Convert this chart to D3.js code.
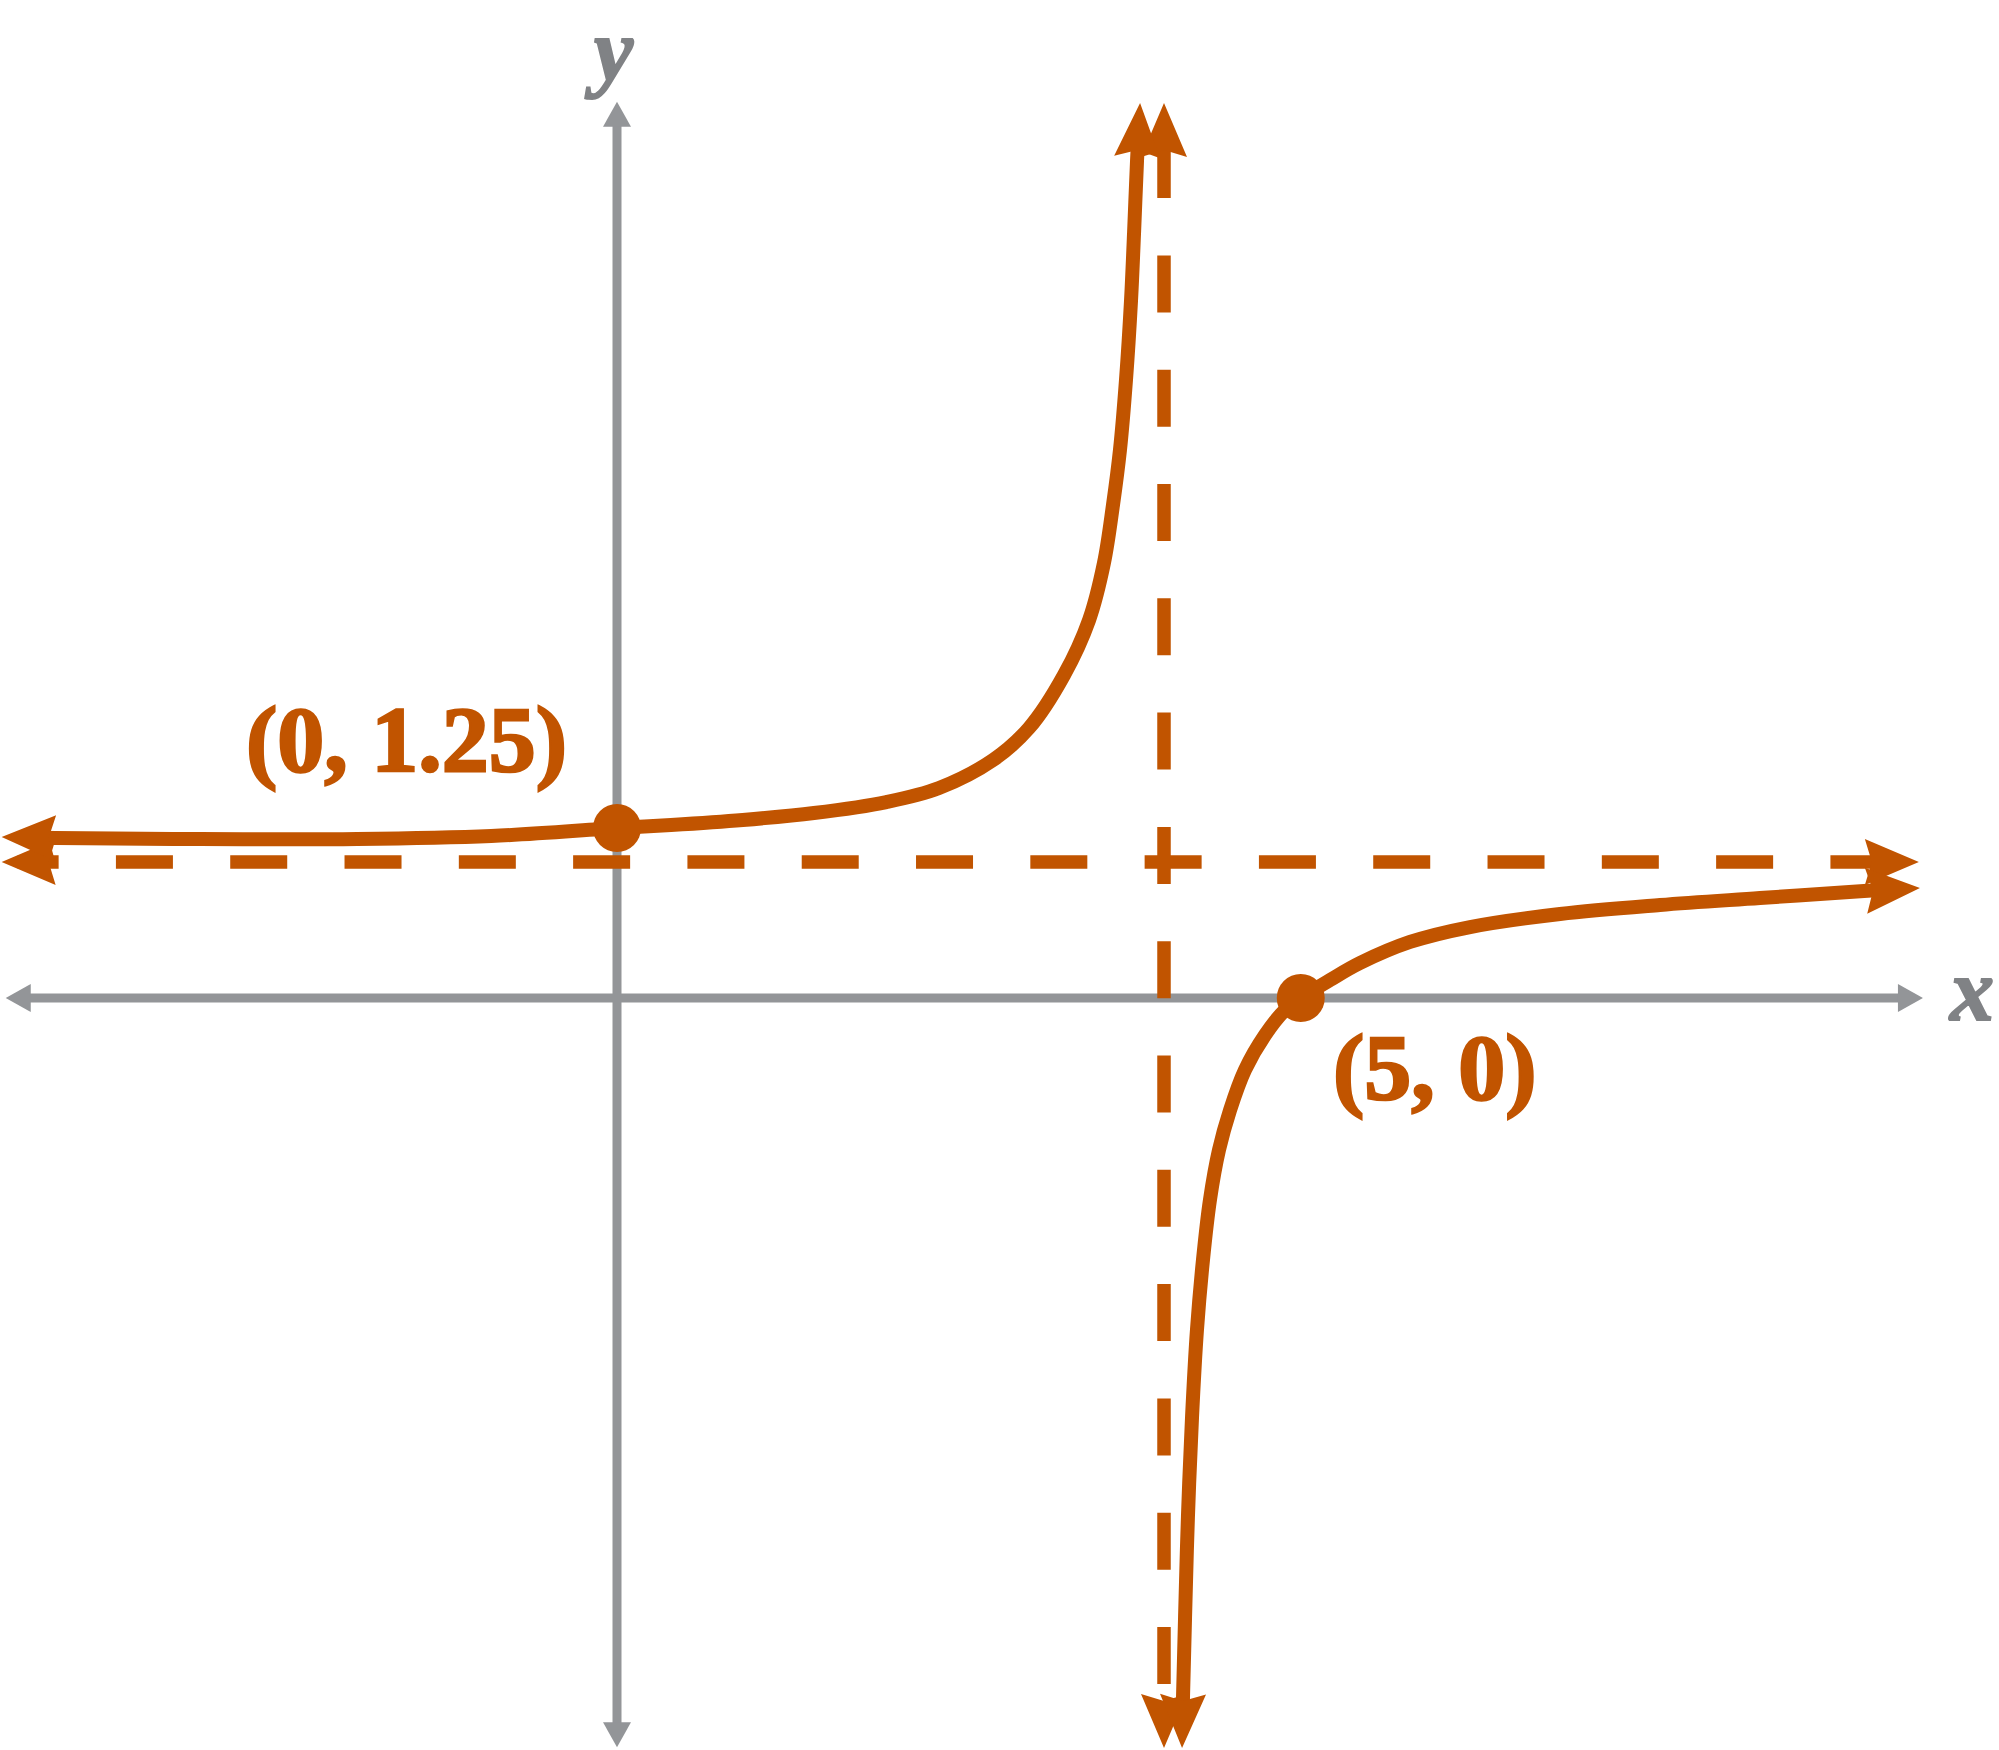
<!DOCTYPE html>
<html lang="en">
<head>
    <meta charset="UTF-8">
    <title>Rational function y = (x - 5)/(x - 4)</title>
    <script src="https://d3js.org/d3.v7.min.js"></script>
    <style>
        body { margin: 0; background: #fff; }
        svg { display: block; }
        .lbl { font-family: "Liberation Serif", "Times New Roman", Times, serif; font-weight: 700; }
        .var { font-family: "Liberation Serif", "Times New Roman", Times, serif; font-weight: 700; font-style: italic; }
    </style>
</head>
<body>
    <div id="chart"></div>

    <script>
        // asymptotes
        var asymX = 4;
        var asymY = 1;

        // left branch of the curve (x < 4)
        var leftX = [-4.50, -4.10, -3.20, -1.90, -0.92, 0, 0.395, 0.92, 1.44, 1.97, 2.355, 2.75, 3.013, 3.269, 3.452, 3.561, 3.627, 3.678, 3.722, 3.759, 3.781, 3.803, 3.825];
        var leftY = [1.184, 1.176, 1.169, 1.169, 1.191, 1.25, 1.272, 1.309, 1.360, 1.441, 1.544, 1.750, 1.985, 2.375, 2.779, 3.199, 3.625, 4.029, 4.544, 5.132, 5.625, 6.162, 6.581];

        // right branch (x > 4), from the bottom arrow to the right arrow
        var rightX = [4.132, 4.139, 4.154, 4.175, 4.205, 4.241, 4.285, 4.336, 4.402, 4.483, 4.592, 4.739, 4.885, 5.0, 5.214, 5.433, 5.799, 6.238, 6.896, 7.627, 8.358, 9.119, 9.528];
        var rightY = [-5.515, -5.140, -4.551, -3.816, -3.081, -2.441, -1.926, -1.485, -1.118, -0.824, -0.529, -0.272, -0.088, 0, 0.132, 0.257, 0.412, 0.522, 0.618, 0.684, 0.735, 0.787, 0.809];

        // labelled points
        var pointX = [0, 5];
        var pointY = [1.25, 0];
        var pointLabels = ["(0, 1.25)", "(5, 0)"];

        // extents of axes and asymptote lines
        var xAxisExtent = [-4.47, 9.55];
        var yAxisExtent = [-5.51, 6.59];
        var hAsymExtent = [-4.50, 9.52];
        var vAsymExtent = [-5.515, 6.58];

        var width = 1999, height = 1750;
        var orange = "#c15400";
        var gray = "#939598";

        var svg = d3.select("#chart").append("svg")
            .attr("width", width)
            .attr("height", height);

        var x = d3.scaleLinear().domain([0, 4]).range([617, 1164]);
        var y = d3.scaleLinear().domain([0, 1]).range([998, 862]);

        // arrow head with tip at `tip`, pointing away from `from`
        function arrowHead(tip, from, len, half, notch, color) {
            var a = Math.atan2(tip[1] - from[1], tip[0] - from[0]) * 180 / Math.PI;
            var d = "M0,0L" + (-len) + "," + (-half) + "L" + (-len + notch) + ",0L" + (-len) + "," + half + "Z";
            svg.append("path")
                .attr("d", d)
                .attr("fill", color)
                .attr("transform", "translate(" + tip[0] + "," + tip[1] + ") rotate(" + a + ")");
        }

        // straight line with arrows at both ends, ends trimmed under the heads
        function arrowLine(p0, p1, opts) {
            var dx = p1[0] - p0[0], dy = p1[1] - p0[1];
            var L = Math.sqrt(dx * dx + dy * dy);
            var ux = dx / L, uy = dy / L, t = opts.trim;
            var line = svg.append("line")
                .attr("x1", p0[0] + ux * t).attr("y1", p0[1] + uy * t)
                .attr("x2", p1[0] - ux * t).attr("y2", p1[1] - uy * t)
                .attr("stroke", opts.color)
                .attr("stroke-width", opts.width);
            if (opts.dash) {
                var period = opts.dash[0] + opts.dash[1];
                var off = (((t - opts.phase) % period) + period) % period;
                line.attr("stroke-dasharray", opts.dash.join(" "))
                    .attr("stroke-dashoffset", off);
            }
            arrowHead(p0, p1, opts.len, opts.half, opts.notch, opts.color);
            arrowHead(p1, p0, opts.len, opts.half, opts.notch, opts.color);
        }

        // axes
        var axisOpts = { color: gray, width: 9, trim: 12, len: 25, half: 14, notch: 0 };
        arrowLine([x(xAxisExtent[0]), y(0)], [x(xAxisExtent[1]), y(0)], axisOpts);
        arrowLine([x(0), y(yAxisExtent[0])], [x(0), y(yAxisExtent[1])], axisOpts);

        // dashed asymptotes
        arrowLine([x(hAsymExtent[0]), y(asymY)], [x(hAsymExtent[1]), y(asymY)],
            { color: orange, width: 13.5, trim: 16, len: 54, half: 23, notch: 7, dash: [57, 57.3], phase: 114.3 });
        arrowLine([x(asymX), y(vAsymExtent[1])], [x(asymX), y(vAsymExtent[0])],
            { color: orange, width: 13.5, trim: 16, len: 54, half: 23, notch: 7, dash: [57, 57.3], phase: 38 });

        // the two branches
        var curve = d3.line()
            .x(function(d) { return x(d[0]); })
            .y(function(d) { return y(d[1]); })
            .curve(d3.curveCatmullRom.alpha(0.5));

        [[leftX, leftY], [rightX, rightY]].forEach(function(br) {
            var pts = d3.zip(br[0], br[1]);
            var path = svg.append("path")
                .attr("d", curve(pts))
                .attr("fill", "none")
                .attr("stroke", orange)
                .attr("stroke-width", 14);
            var node = path.node();
            var L = node.getTotalLength();
            var t = 20;
            path.attr("stroke-dasharray", "0 " + t + " " + (L - 2 * t) + " " + L);
            var s0 = node.getPointAtLength(0), s1 = node.getPointAtLength(30);
            var e0 = node.getPointAtLength(L), e1 = node.getPointAtLength(L - 30);
            arrowHead([s0.x, s0.y], [s1.x, s1.y], 54, 23, 7, orange);
            arrowHead([e0.x, e0.y], [e1.x, e1.y], 54, 23, 7, orange);
        });

        // points
        svg.selectAll("circle.pt")
            .data(d3.zip(pointX, pointY))
            .enter().append("circle")
            .attr("class", "pt")
            .attr("cx", function(d) { return x(d[0]); })
            .attr("cy", function(d) { return y(d[1]); })
            .attr("r", 24)
            .attr("fill", orange);

        // point labels
        var labelPos = [[246, 771], [1333, 1099]];
        svg.selectAll("text.lbl")
            .data(pointLabels)
            .enter().append("text")
            .attr("class", "lbl")
            .attr("x", function(d, i) { return labelPos[i][0]; })
            .attr("y", function(d, i) { return labelPos[i][1]; })
            .attr("font-size", 94)
            .attr("fill", orange)
            .attr("stroke", orange)
            .attr("stroke-width", 2.5)
            .text(function(d) { return d; });

        // axis names
        svg.append("text")
            .attr("class", "var")
            .attr("x", 1950).attr("y", 1020)
            .attr("font-size", 88)
            .attr("fill", "#808285")
            .attr("stroke", "#808285")
            .attr("stroke-width", 2)
            .text("x");
        svg.append("text")
            .attr("class", "var")
            .attr("x", 594).attr("y", 80)
            .attr("font-size", 88)
            .attr("fill", "#808285")
            .attr("stroke", "#808285")
            .attr("stroke-width", 2)
            .text("y");
    </script>
</body>
</html>
